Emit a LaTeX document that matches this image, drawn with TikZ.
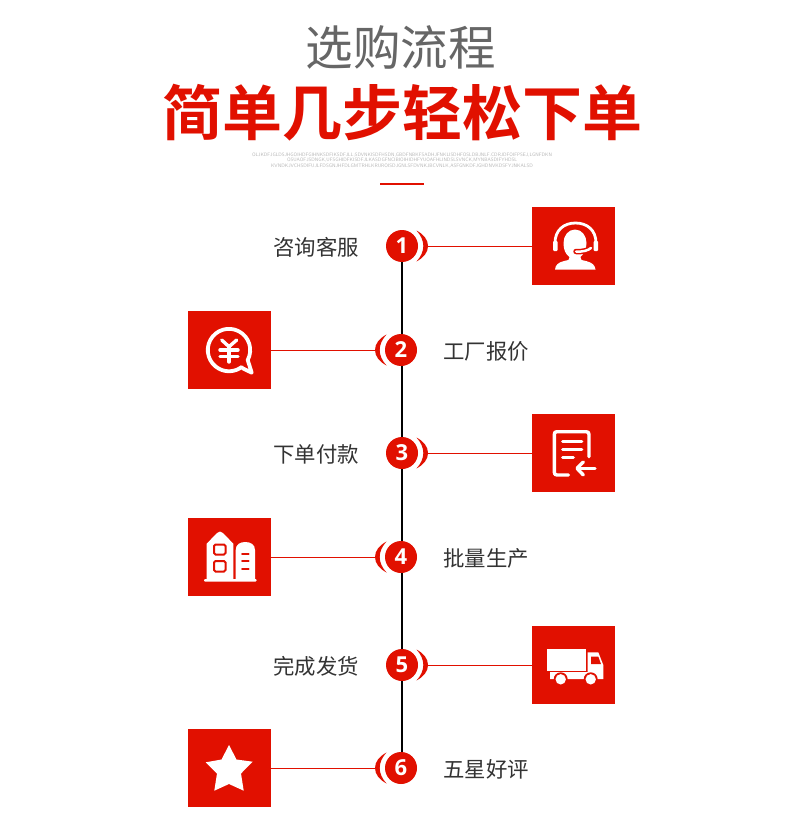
\documentclass[tikz,border=0pt]{standalone}
\usepackage{fontspec}
\newfontfamily\cjk{Noto Sans CJK SC}[BoldFont={Noto Sans CJK SC Bold}]
\newfontfamily\numfont{Open Sans}
\definecolor{brand}{HTML}{E11000}
\definecolor{titlegray}{HTML}{666666}
\definecolor{labelgray}{HTML}{333333}
\definecolor{tinygray}{HTML}{B4B4B4}
\tikzset{
  iconbox/.style={fill=brand,draw=none,minimum width=83pt,minimum height=78pt,inner sep=0pt,outer sep=0pt},
  stepdot/.style={circle,fill=brand,draw=none,minimum size=32pt,inner sep=0pt,text=white,font=\numfont\bfseries\fontsize{22}{22}\selectfont},
  steplabel/.style={font=\cjk\fontsize{21.4}{21.4}\selectfont,text=labelgray,inner sep=0pt},
  conn/.style={draw=brand,line width=1pt},
  spine/.style={draw=black,line width=2.2pt},
  crescent/.style={fill=brand,draw=none},
  iconline/.style={draw=white,line cap=round,line join=round,line width=3.4pt},
  iconfill/.style={fill=white,draw=none},
  tinytext/.style={text=tinygray,inner sep=0pt},
}
\newcommand{\tinyline}[3]{\resizebox{#1pt}{!}{\normalfont\sffamily #3}}
\begin{document}
\begin{tikzpicture}[x=1pt,y=-1pt]
\useasboundingbox (0,0) rectangle (790,834);
\fill[white] (0,0) rectangle (790,834);

% heading
\node (title) at (400.5,47.5) [font=\cjk\fontsize{47.5}{48}\selectfont,text=titlegray,inner sep=0pt] {选购流程};
\node (subtitle) at (402.5,113) [font=\cjk\bfseries\fontsize{60}{60}\selectfont,text=brand,draw=brand,line width=0.5pt,inner sep=0pt,draw opacity=0] {简单几步轻松下单};
\node (tiny1) at (402,155) [tinytext] {\tinyline{300}{}{OLJKDFJGLDSJHGOIHDFGIHNKSDFIKSDFJLL;SDVNKISDFHSDN,GBDFNBKFSADHJFNKLISDHFOSLDBJNLF.CDRJDFOIFPSEJ,LGNFDKN}};
\node (tiny2) at (402,160.5) [tinytext] {\tinyline{230}{}{OSUAOFJSDNGK,UFSGHIDFKISDFJLKASDGFNCIBIOIHIDHFYUOAFHLINDSLSVNCK,MYNBASDIFYHDSL}};
\node (tiny3) at (402,166) [tinytext] {\tinyline{262}{}{KVNDKJVCHSDIFUJLFDSGNJHFDLGMTRHLKRUROISDJGNLSFDVNKJBCVNLK,ASFGNKDFJGHDNVKDSFYJNKALSD}};
\node (rule) at (402,184.5) [fill=brand,minimum width=44pt,minimum height=2pt,inner sep=0pt] {};

% boxes
\node (b1) at (573.5,246) [iconbox] {};
\node (b2) at (229.5,350) [iconbox] {};
\node (b3) at (573.5,453) [iconbox] {};
\node (b4) at (229.5,557) [iconbox] {};
\node (b5) at (573.5,665) [iconbox] {};
\node (b6) at (229.5,768) [iconbox] {};

% crescent ends
\coordinate (c1) at (427,246);
\coordinate (c2) at (376,350);
\coordinate (c3) at (427,453);
\coordinate (c4) at (376,557);
\coordinate (c5) at (427,665);
\coordinate (c6) at (376,768);

% dots
\node (n1) at (402,246) [stepdot] {1};
\node (n2) at (401,350) [stepdot] {2};
\node (n3) at (402,453) [stepdot] {3};
\node (n4) at (401,557) [stepdot] {4};
\node (n5) at (402,665) [stepdot] {5};
\node (n6) at (401,768) [stepdot] {6};

% spine
\draw[spine] (n1.south) -- (n1.south |- n2.north);
\draw[spine] (n1.south |- n2.south) -- (n1.south |- n3.north);
\draw[spine] (n3.south) -- (n3.south |- n4.north);
\draw[spine] (n3.south |- n4.south) -- (n3.south |- n5.north);
\draw[spine] (n5.south) -- (n5.south |- n6.north);

% connectors
\draw[conn] (c1) -- (b1.west);
\draw[conn] (c2) -- (b2.east);
\draw[conn] (c3) -- (b3.west);
\draw[conn] (c4) -- (b4.east);
\draw[conn] (c5) -- (b5.west);
\draw[conn] (c6) -- (b6.east);

% crescents
\foreach \c/\s in {n1/1,n3/1,n5/1,n2/-1,n4/-1,n6/-1}{
  \begin{scope}[shift={(\c.center)},xscale=\s]
    \fill[crescent] (14.5,-15.5) .. controls (22,-11.5) and (26,-6) .. (26,0)
      .. controls (26,6) and (22,11.5) .. (14.5,15.5)
      .. controls (19,10.5) and (21.3,5.5) .. (21.3,0)
      .. controls (21.3,-5.5) and (19,-10.5) .. (14.5,-15.5) -- cycle;
  \end{scope}
}

% labels
\node (l1) at (316,247) [steplabel] {咨询客服};
\node (l2) at (486,351) [steplabel] {工厂报价};
\node (l3) at (316,454) [steplabel] {下单付款};
\node (l4) at (486,558) [steplabel] {批量生产};
\node (l5) at (316,666) [steplabel] {完成发货};
\node (l6) at (486,769) [steplabel] {五星好评};

% icon 1: headset
\fill[iconfill] (575,229.5) .. controls (582,229.5) and (586.5,236) .. (586.5,243)
  .. controls (586.5,250) and (583.5,254) .. (580.5,257)
  .. controls (580.5,260) and (581,260) .. (586,261)
  .. controls (592,262.5) and (595,265) .. (595.5,269.5)
  -- (555,269.5)
  .. controls (555.5,265) and (558,262.5) .. (564,261)
  .. controls (569,260) and (569.5,260) .. (569.5,257)
  .. controls (565.5,254) and (563.5,250) .. (563.5,243)
  .. controls (563.5,236) and (568,229.5) .. (575,229.5) -- cycle;
\draw[iconline,line width=2.8pt] (555,246) -- (555,243) .. controls (555,230) and (564,223) .. (575.5,223)
  .. controls (587,223) and (596,230) .. (596,243) -- (596,246);
\draw[draw=brand,line cap=round,line width=5.5pt] (576,251.5) .. controls (583,252) and (588,250.5) .. (591,248);
\draw[draw=white,line cap=round,line width=2.5pt] (576,251.5) .. controls (583,252) and (588,250.5) .. (591,248);
\fill[iconfill,rounded corners=1pt] (553,241) rectangle (557.5,251);
\fill[iconfill,rounded corners=1pt] (593.5,241) rectangle (598,251);

% icon 2: yuan speech bubble
\draw[iconline,line width=3.8pt] (242.7,368.3) -- (251.7,372.7) -- (247.7,360)
  arc[start angle=28,end angle=-307,radius=21.2];
\draw[iconline] (221.7,340) -- (229,346.7) -- (236.7,340);
\draw[iconline] (220,350) -- (238,350);
\draw[iconline] (220,356.7) -- (238,356.7);
\draw[iconline] (229,346.7) -- (229,362);

% icon 3: document with arrow
\draw[iconline] (568.3,475) -- (557,475) .. controls (555,475) and (554.3,474) .. (554.3,472)
  -- (554.3,434.5) .. controls (554.3,432.5) and (555,431.7) .. (557,431.7)
  -- (586,431.7) .. controls (588,431.7) and (589,432.5) .. (589,434.5) -- (589,456.7);
\draw[iconline] (562.7,441.7) -- (581.7,441.7);
\draw[iconline] (562.7,449.3) -- (581.7,449.3);
\draw[iconline] (562.7,457.7) -- (573.3,457.7);
\draw[iconline] (577.5,468.3) -- (595,468.3);
\draw[iconline] (583.3,462) -- (577,468.3) -- (583.3,475);

% icon 4: factory
\fill[iconfill] (206.7,580) -- (206.7,543.7) -- (217,533) .. controls (219,531) and (221,531) .. (223,533)
  -- (233.3,543.7) -- (233.3,580) -- cycle;
\fill[iconfill] (235.7,580) -- (235.7,550) .. controls (235.7,544.5) and (240,542) .. (245.3,542)
  .. controls (250.7,542) and (255,544.5) .. (255,550) -- (255,580) -- cycle;
\fill[iconfill,rounded corners=1pt] (204,579) rectangle (256.7,581.5);
\draw[draw=brand,line width=2pt,rounded corners=1.5pt] (214,544.5) rectangle (225.5,554.5);
\draw[draw=brand,line width=2pt,rounded corners=1.5pt] (214,561) rectangle (225.5,571.5);
\draw[draw=brand,line width=2pt,line cap=round] (242,553.7) -- (248.7,553.7);
\draw[draw=brand,line width=2pt,line cap=round] (242,561.3) -- (248.7,561.3);
\draw[draw=brand,line width=2pt,line cap=round] (242,569.3) -- (248.7,569.3);

% icon 5: truck
\fill[iconfill] (547,649) rectangle (586,671);
\fill[iconfill] (587.7,652.3) -- (598.3,652.3) -- (603.3,665) -- (603.3,679) -- (550,679) -- (550,672) -- (587.7,672) -- cycle;
\fill[brand] (591,656.7) -- (598.3,656.7) -- (601,664) -- (591,664) -- cycle;
\fill[brand] (560.7,679.3) circle[radius=7];
\fill[brand] (590.7,679.3) circle[radius=7];
\fill[iconfill] (560.7,679.3) circle[radius=5.2];
\fill[iconfill] (590.7,679.3) circle[radius=5.2];

% icon 6: star
\fill[iconfill] (229,745) -- (236.5,759.5) -- (252.7,761.7) -- (241,773.5) -- (243.7,790.7)
  -- (229,784) -- (214.3,790.7) -- (217,773.5) -- (205.7,762.3) -- (221.5,759.5) -- cycle;
\end{tikzpicture}
\end{document}
